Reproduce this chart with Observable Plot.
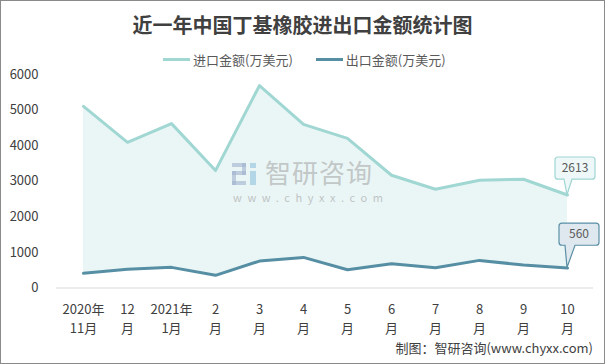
<!DOCTYPE html>
<html><head><meta charset="utf-8">
<script src="https://cdn.jsdelivr.net/npm/d3@7"></script>
<script src="https://cdn.jsdelivr.net/npm/@observablehq/plot@0.6"></script>
<style>
body{margin:0;background:#fff;}
#wrap{position:relative;width:605px;height:364px;overflow:hidden;font-family:"Noto Sans CJK SC","Noto Sans",sans-serif;background:#fff;}
#frame{position:absolute;left:0;top:0;width:605px;height:364px;box-sizing:border-box;border:1px solid #8a8a8a;pointer-events:none;}
#title{position:absolute;top:10px;left:0;width:605px;text-align:center;font-size:20px;line-height:30px;font-weight:bold;color:#404040;}
#legend{position:absolute;top:49px;left:163px;height:20px;display:flex;align-items:center;font-size:13px;color:#595959;white-space:nowrap;}
#legend .sw{display:inline-block;width:27px;height:3px;margin-right:3px;}
#chart{position:absolute;left:0;top:62px;}
#caption{position:absolute;right:12px;top:341px;font-size:13px;line-height:14px;color:#404040;white-space:nowrap;}
#wm{position:absolute;left:232px;top:160px;pointer-events:none;}
#wm .t{position:absolute;left:33px;top:-3px;font-size:26px;line-height:30px;color:#a9a9a9;opacity:0.6;white-space:nowrap;letter-spacing:1px;}
#wm .u{position:absolute;left:1px;top:30px;font-size:11px;line-height:14px;color:#a9a9a9;opacity:0.65;letter-spacing:5.6px;white-space:nowrap;}
#wm .b{position:absolute;background:#9fb3cf;opacity:0.6;}
</style></head>
<body>
<div id="wrap">
  <div id="title">近一年中国丁基橡胶进出口金额统计图</div>
  <div id="legend"></div>
  <div id="chart"></div>
  <div id="wm">
    <div class="b" style="left:0;top:3px;width:14px;height:4px;"></div>
    <div class="b" style="left:10px;top:3px;width:4px;height:12px;"></div>
    <div class="b" style="left:0;top:11px;width:14px;height:4px;"></div>
    <div class="b" style="left:0;top:11px;width:4px;height:14px;"></div>
    <div class="b" style="left:0;top:21px;width:14px;height:4px;"></div>
    <div class="b" style="left:18px;top:3px;width:6px;height:5px;background:#8fc3de;"></div>
    <div class="b" style="left:18px;top:11px;width:6px;height:14px;background:#8fc3de;"></div>
    <div class="t">智研咨询</div>
    <div class="u">www.chyxx.com</div>
  </div>
  <div id="caption">制图：智研咨询(www.chyxx.com)</div>
  <div id="frame"></div>
</div>
<script>
const months = ["2020年\n11月","12\n月","2021年\n1月","2\n月","3\n月","4\n月","5\n月","6\n月","7\n月","8\n月","9\n月","10\n月"];
const importVals = [5103, 4093, 4620, 3300, 5690, 4600, 4205, 3168, 2776, 3028, 3056, 2613];
const exportVals = [412, 524, 580, 356, 757, 860, 513, 681, 569, 776, 645, 560];
const seriesNames = ["进口金额(万美元)", "出口金额(万美元)"];
const yTicks = [0, 1000, 2000, 3000, 4000, 5000, 6000];

const colors = ["#a0d7d3", "#568ea4"];
const areaFill = "#eaf6f6";

const data = months.map((m, i) => ({month: m, imp: importVals[i], exp: exportVals[i]}));
const last = months.length - 1;
const callouts = [
  {month: months[last], value: importVals[last], label: String(importVals[last]), s: 0},
  {month: months[last], value: exportVals[last], label: String(exportVals[last]), s: 1}
];
// callout geometry styles (relative to the anchored point)
const calloutStyle = [
  {l: -12, r: 28, t: -37.5, b: -15.3, a: -3, c: 5, fill: "#eef8f8", stroke: "#9fd6d3"},
  {l: -8, r: 32, t: -44.5, b: -22.3, a: -2, c: 8, fill: "#dfe8ef", stroke: "#5a8fa6"}
];

// legend
const lg = document.getElementById("legend");
seriesNames.forEach((n, i) => {
  const sp = document.createElement("span");
  sp.style.display = "inline-flex"; sp.style.alignItems = "center";
  if (i > 0) sp.style.marginLeft = "23px";
  sp.innerHTML = `<span class="sw" style="background:${colors[i]}"></span>${n}`;
  lg.appendChild(sp);
});

const calloutMark = Plot.text(callouts, {
  x: "month", y: "value", text: "label",
  render: (index, scales, values) => {
    const g = d3.create("svg:g");
    for (const i of index) {
      const px = values.x[i], py = values.y[i];
      const st = calloutStyle[callouts[i].s];
      const L = px + st.l, R = px + st.r, T = py + st.t, B = py + st.b, A = px + st.a, C = px + st.c, r = 3;
      const d = `M${L+r},${T}H${R-r}Q${R},${T} ${R},${T+r}V${B-r}Q${R},${B} ${R-r},${B}H${C}L${px},${py}L${A},${B}H${L+r}Q${L},${B} ${L},${B-r}V${T+r}Q${L},${T} ${L+r},${T}Z`;
      g.append("path").attr("d", d).attr("fill", st.fill).attr("stroke", st.stroke).attr("stroke-width", 1.2);
      g.append("text").attr("x", (L + R) / 2).attr("y", (T + B) / 2).attr("dy", "0.35em")
        .attr("text-anchor", "middle").attr("font-size", 12).attr("fill", "#595959").text(callouts[i].label);
    }
    return g.node();
  }
});

const chart = Plot.plot({
  width: 605, height: 270,
  marginTop: 12, marginBottom: 44.5, marginLeft: 56, marginRight: 12,
  style: {fontFamily: '"Noto Sans CJK SC","Noto Sans",sans-serif', fontSize: "13px", color: "#404040", background: "transparent", overflow: "visible"},
  x: {type: "point", domain: months, padding: 0.5, label: null},
  y: {domain: [0, 6000], label: null},
  marks: [
    Plot.areaY(data, {x: "month", y1: "exp", y2: "imp", fill: areaFill}),
    Plot.ruleY([0], {stroke: "#d9d9d9", strokeWidth: 1}),
    Plot.lineY(data, {x: "month", y: "imp", stroke: colors[0], strokeWidth: 3}),
    Plot.lineY(data, {x: "month", y: "exp", stroke: colors[1], strokeWidth: 3}),
    Plot.axisY({ticks: yTicks, tickSize: 0, tickPadding: 18, tickFormat: d3.format("d"), fontSize: 13, fill: "#404040"}),
    Plot.axisX({tickSize: 0, tickPadding: 12, lineHeight: 1.5, fontSize: 13, fill: "#404040"}),
    calloutMark
  ]
});
document.getElementById("chart").appendChild(chart);
</script>
</body></html>
